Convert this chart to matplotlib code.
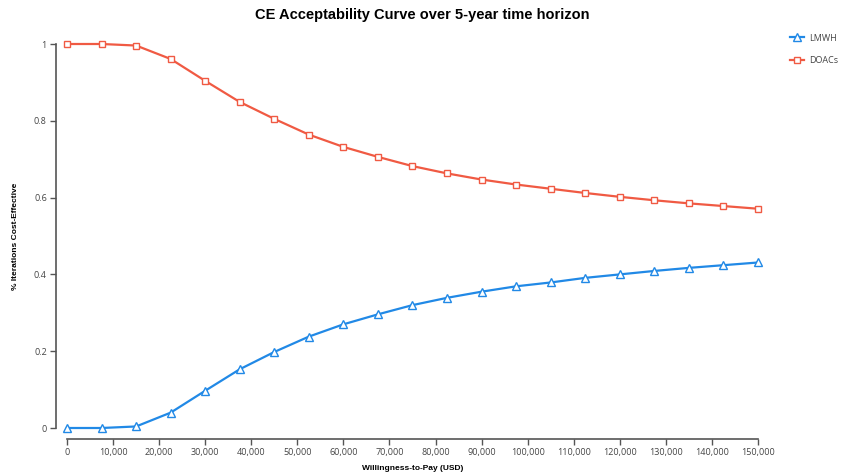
import numpy as np
import matplotlib
matplotlib.use("Agg")
import matplotlib.pyplot as plt
from matplotlib.ticker import FuncFormatter

# willingness-to-pay thresholds (USD)
wtp = [0, 7500, 15000, 22500, 30000, 37500, 45000, 52500, 60000, 67500, 75000,
       82500, 90000, 97500, 105000, 112500, 120000, 127500, 135000, 142500, 150000]

lmwh = [0.0, 0.0, 0.004, 0.040, 0.097, 0.153, 0.198, 0.238, 0.270, 0.296, 0.320,
        0.339, 0.355, 0.369, 0.379, 0.391, 0.400, 0.409, 0.417, 0.424, 0.431]

doacs = [1.0, 1.0, 0.996, 0.961, 0.904, 0.849, 0.805, 0.764, 0.732, 0.706, 0.682,
         0.663, 0.647, 0.634, 0.623, 0.612, 0.602, 0.593, 0.585, 0.578, 0.571]

xticks = list(range(0, 150001, 10000))
yticks = [0, 0.2, 0.4, 0.6, 0.8, 1]

blue = '#2189E6'
red = '#F05A43'
axis_col = '#555555'
text_col = '#444444'

fig = plt.figure(figsize=(8.45, 4.75), dpi=100)
ax = fig.add_axes([67/845, 47/475, 691/845, 384/475])

ax.plot(wtp, lmwh, color=blue, lw=1.6, marker='^', ms=5.5, mfc='white',
        mec=blue, mew=1.0, clip_on=False, label='LMWH', zorder=3)
ax.plot(wtp, doacs, color=red, lw=1.6, marker='s', ms=4.2, mfc='white',
        mec=red, mew=1.0, clip_on=False, label='DOACs', zorder=3)

ax.set_xlim(0, 150000)
ax.set_ylim(0, 1)
ax.set_xticks(xticks)
ax.set_yticks(yticks)
ax.xaxis.set_major_formatter(FuncFormatter(lambda v, p: f'{int(v):,}'))
ax.yaxis.set_major_formatter(FuncFormatter(lambda v, p: f'{v:g}'))

for s in ['top', 'right']:
    ax.spines[s].set_visible(False)
for s in ['left', 'bottom']:
    ax.spines[s].set_position(('outward', 8))
    ax.spines[s].set_color(axis_col)
    ax.spines[s].set_linewidth(1.2)
ax.spines['left'].set_bounds(0, 1)
ax.spines['bottom'].set_bounds(0, 150000)

ax.tick_params(axis='both', colors=axis_col, length=4.5, width=1.0,
               labelsize=6.5, labelcolor=text_col, pad=2)
for lab in ax.get_xticklabels() + ax.get_yticklabels():
    lab.set_fontfamily('Open Sans')

ax.set_xlabel('Willingness-to-Pay (USD)', fontsize=6, fontweight='bold',
              family='Liberation Sans', labelpad=6)
ax.set_ylabel('% Iterations Cost-Effective', fontsize=6, fontweight='bold',
              family='Liberation Sans', labelpad=11)

fig.text(0.5, 1 - 15/475, 'CE Acceptability Curve over 5-year time horizon',
         ha='center', va='center', fontsize=10.5, fontweight='bold',
         family='Liberation Sans')

leg = ax.legend(loc='upper left', bbox_to_anchor=(786/845, 1 - 30/475),
                bbox_transform=fig.transFigure, frameon=False, fontsize=6.5,
                handlelength=1.6, handletextpad=0.6, labelspacing=1.5,
                borderaxespad=0)
for t in leg.get_texts():
    t.set_fontfamily('Open Sans')
    t.set_color(text_col)

fig.savefig('out.png', dpi=100)
